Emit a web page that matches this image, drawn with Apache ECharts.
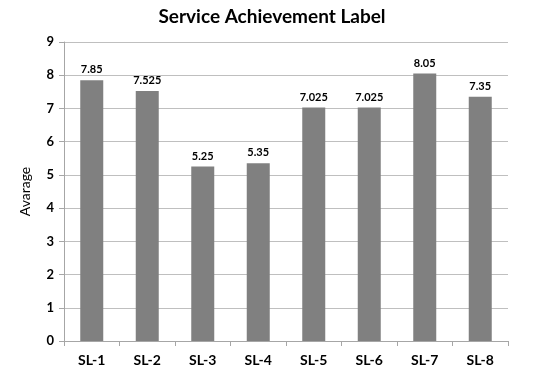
<!DOCTYPE html>
<html><head><meta charset="utf-8">
<script src="https://cdn.jsdelivr.net/npm/echarts@6/dist/echarts.min.js"></script>
<style>html,body{margin:0;padding:0;background:#fff}#c{width:544px;height:373px}</style>
</head><body><div id="c"></div>
<script>
const categories = ["SL-1","SL-2","SL-3","SL-4","SL-5","SL-6","SL-7","SL-8"];
const values = [7.85, 7.525, 5.25, 5.35, 7.025, 7.025, 8.05, 7.35];
const chart = echarts.init(document.getElementById('c'));
const F = 'Lato, "Open Sans", sans-serif';
chart.setOption({
  animation: false,
  backgroundColor: '#fff',
  title: { text: 'Service Achievement Label', left: 267, textAlign: 'center', top: 2,
    textStyle: { fontFamily: F, fontSize: 19, fontWeight: 'bold', color: '#000' } },
  grid: { left: 64, right: 36, top: 42, bottom: 32 },
  xAxis: { type: 'category', data: categories,
    axisLine: { lineStyle: { color: '#a6a6a6' } },
    axisTick: { show: true, length: 5, lineStyle: { color: '#a6a6a6' } },
    axisLabel: { fontFamily: F, fontSize: 14, fontWeight: 'bold', color: '#000', margin: 12 } },
  yAxis: { type: 'value', min: 0, max: 9, interval: 1,
    name: 'Avarage', nameLocation: 'middle', nameGap: 32, nameRotate: 90,
    nameTextStyle: { fontFamily: F, fontSize: 14, color: '#000' },
    axisLine: { show: true, lineStyle: { color: '#a6a6a6' } },
    axisTick: { show: true, length: 5, lineStyle: { color: '#a6a6a6' } },
    splitLine: { lineStyle: { color: '#bfbfbf' } },
    axisLabel: { fontFamily: F, fontSize: 13, fontWeight: 'bold', color: '#000', margin: 10 } },
  series: [{ type: 'bar', data: values, barWidth: 23,
    itemStyle: { color: '#808080' },
    label: { show: true, position: 'top', distance: 5, fontFamily: F, fontSize: 11, fontWeight: 'bold', color: '#000' } }]
});
</script></body></html>
